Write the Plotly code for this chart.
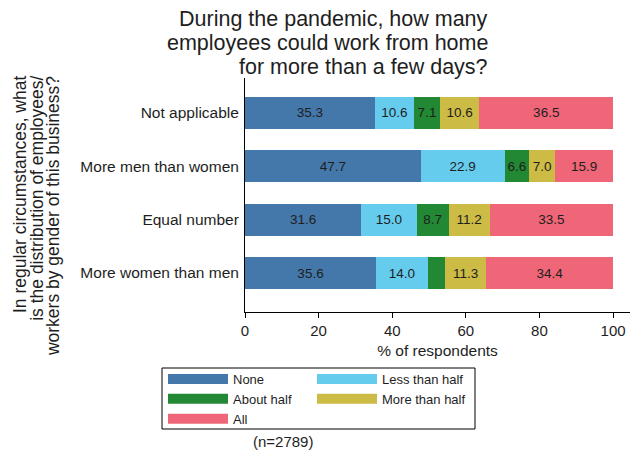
import plotly.graph_objects as go

# ---------------- data ----------------
categories = ["Not applicable", "More men than women", "Equal number", "More women than men"]
series_names = ["None", "Less than half", "About half", "More than half", "All"]
none_vals = [35.3, 47.7, 31.6, 35.6]
less_half_vals = [10.6, 22.9, 15.0, 14.0]
about_half_vals = [7.1, 6.6, 8.7, 4.7]
more_half_vals = [10.6, 7.0, 11.2, 11.3]
all_vals = [36.5, 15.9, 33.5, 34.4]
series_values = [none_vals, less_half_vals, about_half_vals, more_half_vals, all_vals]
colors = ["#4477AA", "#66CCEE", "#228833", "#CCBB44", "#EE6677"]
x_ticks = [0, 20, 40, 60, 80, 100]
title_lines = ["During the pandemic, how many",
               "employees could work from home",
               "for more than a few days?"]
ytitle_lines = ["In regular circumstances, what",
                "is the distribution of employees/",
                "workers by gender of this business?"]
x_title = "% of respondents"
note = "(n=2789)"
legend_cols = [["None", "About half", "All"], ["Less than half", "More than half"]]

FONT = "Liberation Sans, Arial, sans-serif"
TXT = "#1e1e1e"

# pixel helpers for layout placement (plot area 245..630 x, 78..312 y)
PL, PR, PT, PB = 245, 630, 78, 312
def xp(px):
    return (px - PL) / (PR - PL)
def yp(py):
    return (PB - py) / (PB - PT)

fig = go.Figure()
for name, vals, col in zip(series_names, series_values, colors):
    labels = [f"{v:.1f}" if v >= 5 else "" for v in vals]
    fig.add_trace(go.Bar(
        y=categories, x=vals, name=name, orientation="h",
        marker=dict(color=col, line=dict(width=0)),
        text=labels, textposition="inside", insidetextanchor="middle",
        textangle=0, constraintext="none",
        textfont=dict(family=FONT, size=13.5, color=TXT),
        width=0.6, showlegend=False, hoverinfo="x+name",
    ))

# legend entries (two columns -> two legends)
for li, names in enumerate(legend_cols):
    for name in names:
        col = colors[series_names.index(name)]
        fig.add_trace(go.Scatter(
            x=[None], y=[None], mode="lines", name=name,
            line=dict(color=col, width=13),
            legend="legend" if li == 0 else "legend2",
            showlegend=True, hoverinfo="skip",
        ))

legend_common = dict(
    orientation="v", xanchor="left", yanchor="top",
    font=dict(family=FONT, size=13, color=TXT),
    bgcolor="rgba(0,0,0,0)", borderwidth=0, itemwidth=60,
    tracegroupgap=0, traceorder="normal",
)

fig.update_layout(
    width=635, height=453,
    margin=dict(l=PL, r=635 - PR, t=PT, b=453 - PB, autoexpand=False),
    paper_bgcolor="white", plot_bgcolor="white",
    barmode="stack", bargap=0.4,
    font=dict(family=FONT, color=TXT),
    legend=dict(x=xp(163), y=yp(364), **legend_common),
    legend2=dict(x=xp(312), y=yp(364), **legend_common),
    xaxis=dict(
        range=[0, 104.6], tickvals=x_ticks, ticks="outside", ticklen=5,
        tickcolor="black", showline=True, linecolor="black", linewidth=1,
        showgrid=False, zeroline=False,
        tickfont=dict(family=FONT, size=15, color=TXT),
        title=dict(text=x_title, font=dict(family=FONT, size=15.5, color=TXT), standoff=7),
    ),
    yaxis=dict(
        type="category", categoryorder="array", categoryarray=categories,
        range=[3.731, -0.656], showline=True, linecolor="black", linewidth=1,
        showgrid=False, zeroline=False, ticks="", ticklabelstandoff=2,
        tickfont=dict(family=FONT, size=15.5, color=TXT),
    ),
)

# legend frame
fig.add_shape(type="rect", xref="paper", yref="paper",
              x0=xp(162), x1=xp(475), y0=yp(429), y1=yp(368),
              line=dict(color="black", width=1), fillcolor="rgba(0,0,0,0)")

# title (right-justified)
for i, line in enumerate(title_lines):
    fig.add_annotation(text=line, xref="paper", yref="paper",
                       x=xp(490), y=yp(19 + 24 * i), xanchor="right", yanchor="middle",
                       showarrow=False, font=dict(family=FONT, size=21.5, color=TXT))

# y-axis title (rotated, three lines)
for i, line in enumerate(ytitle_lines):
    fig.add_annotation(text=line, xref="paper", yref="paper",
                       x=xp(19.5 + 16.8 * i), y=yp(74), xanchor="center", yanchor="top",
                       textangle=-90, showarrow=False,
                       font=dict(family=FONT, size=17.5, color=TXT))

fig.add_annotation(text=note, xref="paper", yref="paper", x=xp(283), y=yp(441),
                   xanchor="center", yanchor="middle", showarrow=False,
                   font=dict(family=FONT, size=15, color=TXT))

fig.write_html("out.html",
               config={"displayModeBar": False},
               post_script="document.body.style.margin='0';document.body.style.padding='0';")
